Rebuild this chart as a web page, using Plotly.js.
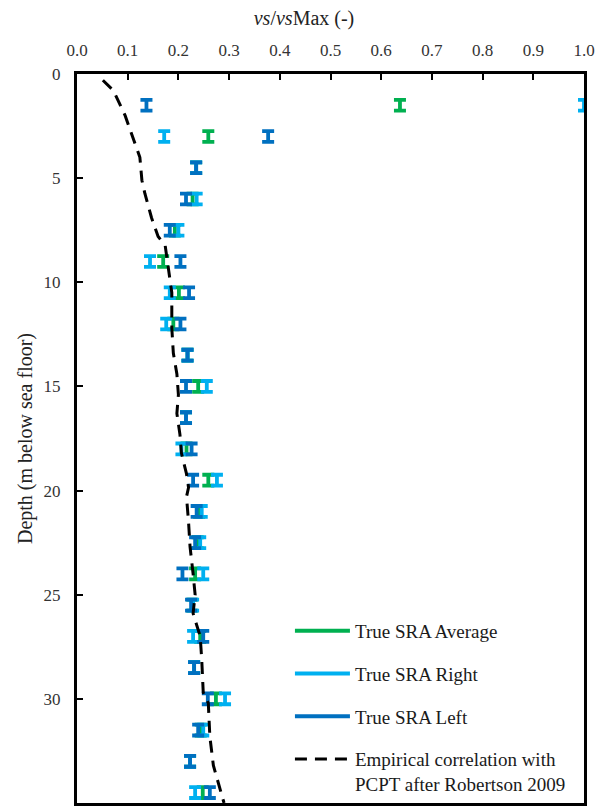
<!DOCTYPE html>
<html>
<head>
<meta charset="utf-8">
<script src="https://cdn.plot.ly/plotly-3.0.1.min.js"></script>
<style>html,body{margin:0;padding:0;background:#fff;}#chart{width:602px;height:807px;}</style>
</head>
<body>
<div id="chart"></div>
<script>
// Depths (m below sea floor)
const depths = [1.5,3,4.5,6,7.5,9,10.5,12,13.5,15,16.5,18,19.5,21,22.5,24,25.5,27,28.5,30,31.5,33,34.5];
// vs/vsMax values
const sraAverage = [0.637,0.259,0.235,0.228,0.193,0.170,0.201,0.190,0.218,0.239,0.215,0.216,0.259,0.241,0.238,0.233,0.227,0.243,0.231,0.274,0.244,0.223,0.248];
const sraRight   = [1.000,0.172,0.235,0.236,0.200,0.144,0.183,0.176,0.218,0.256,0.215,0.206,0.276,0.246,0.243,0.249,0.229,0.229,0.231,0.292,0.249,0.223,0.233];
const sraLeft    = [0.137,0.377,0.235,0.215,0.183,0.204,0.221,0.204,0.218,0.215,0.215,0.226,0.229,0.236,0.233,0.208,0.225,0.249,0.231,0.258,0.239,0.223,0.262];
// Empirical correlation (Robertson 2009)
const empDepth = [0.3,0.8,2.0,4.0,5.1,5.75,6.9,7.8,8.25,9.3,10.5,12.2,13.4,14.4,15.4,16.3,17.3,18.2,19.2,19.85,20.3,21.5,22.7,24.0,25.0,25.9,27.0,28.1,29.7,30.2,31.8,33.2,34.3,35];
const empVs    = [0.051,0.072,0.095,0.124,0.128,0.134,0.147,0.160,0.174,0.180,0.187,0.187,0.190,0.197,0.200,0.197,0.203,0.206,0.216,0.220,0.216,0.220,0.223,0.229,0.233,0.229,0.243,0.246,0.249,0.259,0.262,0.269,0.282,0.290];
const xTickVals = [0,0.1,0.2,0.3,0.4,0.5,0.6,0.7,0.8,0.9,1.0];
const yTickVals = [0,5,10,15,20,25,30,35];
const halfBar = 0.26;

// interleave nulls so points are not joined by lines
function gap(arr){ const out=[]; arr.forEach(v=>{out.push(v); out.push(null);}); return out; }

function sraTrace(name, vals, color, group){
  return {
    type:'scatter', mode:'lines', name:name, legendgroup:group,
    x: gap(vals), y: gap(depths), connectgaps:false, cliponaxis:false,
    line:{color:color, width:4},
    error_y:{type:'constant', value:halfBar, color:color, thickness:3.8, width:6},
    hoverinfo:'x+y'
  };
}

const traces = [
  sraTrace('True SRA Average', sraAverage, '#00B050', 'a'),
  sraTrace('True SRA Right', sraRight, '#00B0F0', 'b'),
  sraTrace('True SRA Left', sraLeft, '#0070C0', 'c'),
  {type:'scatter', mode:'lines', name:'Empirical correlation with<br>PCPT after Robertson 2009', legendgroup:'d',
   x: empVs, y: empDepth, line:{color:'#000', width:3, dash:'12px,8px'}}
];

const serif = 'Liberation Serif, Times New Roman, serif';
const layout = {
  width:602, height:807,
  margin:{l:77, r:18, t:74, b:4},
  paper_bgcolor:'#fff', plot_bgcolor:'#fff',
  font:{family:serif, size:17, color:'#222'},
  title:{text:'<i>vs</i>/<i>vs</i>Max (-)', x:0.505, xref:'container', y:0.978, yref:'container', yanchor:'middle', xanchor:'center', font:{family:serif, size:20, color:'#222'}},
  xaxis:{side:'top', range:[0,1], tickvals:xTickVals, ticktext:xTickVals.map(v=>v.toFixed(1)),
    ticks:'inside', ticklen:6, tickwidth:2, tickcolor:'#000',
    showline:true, linecolor:'#000', linewidth:3, mirror:true, showgrid:false, zeroline:false,
    ticklabelstandoff:8, tickfont:{family:serif, size:17, color:'#333'}},
  yaxis:{range:[35,0], tickvals:yTickVals, ticks:'inside', ticklen:6, tickwidth:2, tickcolor:'#000',
    showline:true, linecolor:'#000', linewidth:3, mirror:true, showgrid:false, zeroline:false,
    ticklabelstandoff:10, tickfont:{family:serif, size:17, color:'#333'},
    title:{text:'Depth (m below sea floor)', standoff:6, font:{family:serif, size:20, color:'#222'}}},
  showlegend:true,
  legend:{x:0.42, y:0.262, xanchor:'left', yanchor:'top', traceorder:'grouped', tracegroupgap:15,
    bgcolor:'rgba(0,0,0,0)', borderwidth:0, itemwidth:55, valign:'top',
    font:{family:serif, size:19, color:'#1a1a1a'}}
};

Plotly.newPlot('chart', traces, layout, {displayModeBar:false, staticPlot:true});
</script>
</body>
</html>
